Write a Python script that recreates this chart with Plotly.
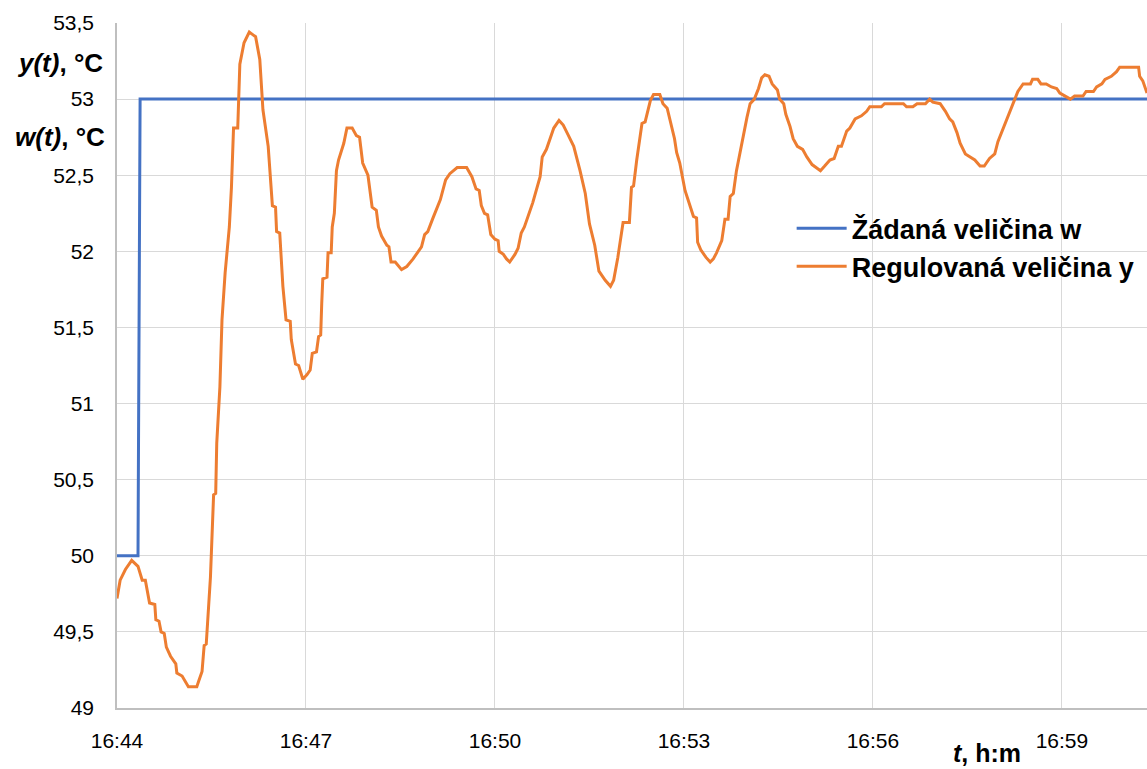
import plotly.graph_objects as go
import pandas as pd

START = "2024-01-01 16:44:00"

# setpoint w(t): seconds after 16:44:00, value °C
w_sec = [0, 20, 22, 990]
w_val = [50.0, 50.0, 53.0, 53.0]

# controlled variable y(t): seconds after 16:44:00, value °C
y_sec = [0, 3, 8, 14, 20, 24, 27, 31, 36, 37, 40, 42, 45, 47, 51, 56, 57, 62, 68, 76,
         78, 81, 83, 85, 89, 92, 94, 95, 98, 100, 103, 107, 109, 111, 115, 117, 121, 126,
         128, 132, 136, 139, 144, 148, 151, 152, 155, 158, 161, 165, 166, 168, 170, 173,
         175, 177, 181, 184, 186, 190, 192, 194, 195, 196, 200, 201, 204, 205, 207, 209,
         211, 216, 219, 224, 228, 231, 234, 239, 243, 247, 249, 252, 257, 259, 261, 265,
         271, 276, 282, 290, 293, 296, 301, 308, 313, 317, 324, 333, 338, 342, 345, 347,
         350, 353, 356, 360, 363, 364, 368, 371, 374, 379, 382, 385, 388, 392, 396, 403,
         405, 409, 416, 421, 425, 430, 435, 441, 446, 450, 455, 459, 465, 470, 473, 477,
         482, 488, 490, 492, 495, 500, 503, 508, 511, 517, 520, 524, 528, 531, 533, 536,
         541, 546, 549, 552, 553, 556, 561, 565, 568, 571, 576, 579, 582, 584, 587, 590,
         593, 596, 600, 603, 607, 611, 614, 617, 621, 624, 629, 631, 635, 637, 641, 644,
         648, 653, 657, 662, 666, 670, 674, 679, 683, 687, 690, 695, 698, 703, 709, 714,
         717, 728, 731, 749, 752, 758, 762, 770, 774, 777, 784, 789, 793, 796, 800, 803,
         808, 812, 817, 822, 826, 831, 836, 839, 843, 846, 850, 854, 858, 863, 870, 872,
         877, 880, 885, 890, 895, 898, 903, 908, 912, 920, 923, 930, 933, 938, 941, 947,
         952, 955, 973, 974, 977, 981]
y_val = [49.72, 49.84, 49.91, 49.97, 49.93, 49.84, 49.84, 49.69, 49.68, 49.58, 49.57, 49.50,
         49.49, 49.40, 49.34, 49.29, 49.23, 49.21, 49.14, 49.14, 49.18, 49.24, 49.41, 49.42,
         49.86, 50.40, 50.41, 50.74, 51.11, 51.55, 51.86, 52.16, 52.42, 52.81, 52.81, 53.23,
         53.37, 53.44, 53.43, 53.41, 53.26, 52.93, 52.69, 52.30, 52.29, 52.13, 52.12, 51.77,
         51.55, 51.54, 51.42, 51.33, 51.26, 51.25, 51.21, 51.16, 51.19, 51.22, 51.33, 51.34,
         51.44, 51.45, 51.66, 51.82, 51.83, 51.99, 51.99, 52.16, 52.25, 52.53, 52.60, 52.71,
         52.81, 52.81, 52.76, 52.75, 52.58, 52.50, 52.29, 52.27, 52.16, 52.10, 52.04, 52.03,
         51.93, 51.93, 51.88, 51.90, 51.95, 52.03, 52.11, 52.13, 52.22, 52.34, 52.47, 52.51,
         52.55, 52.55, 52.49, 52.41, 52.40, 52.30, 52.25, 52.24, 52.11, 52.08, 52.07, 52.00,
         51.98, 51.95, 51.93, 51.98, 52.02, 52.12, 52.16, 52.24, 52.32, 52.49, 52.62, 52.67,
         52.81, 52.86, 52.83, 52.76, 52.69, 52.53, 52.38, 52.18, 52.04, 51.87, 51.81, 51.77,
         51.81, 51.96, 52.19, 52.19, 52.42, 52.43, 52.60, 52.84, 52.85, 52.99, 53.03, 53.03,
         52.97, 52.94, 52.82, 52.74, 52.65, 52.58, 52.40, 52.29, 52.23, 52.22, 52.06, 52.01,
         51.96, 51.93, 51.95, 51.99, 52.07, 52.21, 52.21, 52.36, 52.38, 52.53, 52.64, 52.74,
         52.88, 52.97, 53.00, 53.07, 53.14, 53.16, 53.15, 53.10, 53.06, 53.00, 52.97, 52.90,
         52.82, 52.74, 52.69, 52.67, 52.62, 52.57, 52.55, 52.53, 52.56, 52.60, 52.61, 52.69,
         52.69, 52.79, 52.81, 52.87, 52.89, 52.92, 52.95, 52.95, 52.97, 52.97, 52.95, 52.95,
         52.97, 52.97, 53.00, 52.98, 52.97, 52.92, 52.87, 52.85, 52.78, 52.71, 52.64, 52.62,
         52.60, 52.56, 52.56, 52.61, 52.64, 52.72, 52.79, 52.84, 52.92, 52.99, 53.05, 53.10,
         53.10, 53.13, 53.13, 53.10, 53.10, 53.08, 53.07, 53.04, 53.02, 53.00, 53.02, 53.02,
         53.05, 53.05, 53.08, 53.10, 53.13, 53.15, 53.18, 53.21, 53.21, 53.15, 53.12, 53.04]

x_tick_sec = [0, 180, 360, 540, 720, 900]
x_range_sec = [0, 981]

base = pd.Timestamp(START)
to_t = lambda secs: [base + pd.Timedelta(seconds=s) for s in secs]

FONT = "Liberation Sans"
BLUE = "#4472C4"
ORANGE = "#ED7D31"

fig = go.Figure()
fig.add_trace(go.Scatter(x=to_t(w_sec), y=w_val, mode="lines",
                         name="Žádaná veličina w", line=dict(color=BLUE, width=3)))
fig.add_trace(go.Scatter(x=to_t(y_sec), y=y_val, mode="lines",
                         name="Regulovaná veličina y", line=dict(color=ORANGE, width=3)))

fig.update_layout(
    width=1147, height=769,
    margin=dict(l=117, r=0, t=23, b=61),
    paper_bgcolor="white", plot_bgcolor="white",
    separators=", ",
    font=dict(family=FONT, size=21, color="#000000"),
    showlegend=True,
    legend=dict(x=0.655, y=0.672, xanchor="left", yanchor="middle",
                bgcolor="rgba(0,0,0,0)", borderwidth=0,
                font=dict(family=FONT, size=27, color="#000000", weight="bold"),
                tracegroupgap=0, itemwidth=50),
    xaxis=dict(type="date", range=to_t(x_range_sec), tickvals=to_t(x_tick_sec),
               tickformat="%H:%M", showgrid=True, gridcolor="#D9D9D9", gridwidth=1.3,
               showline=True, linecolor="#BFBFBF", linewidth=1.5, zeroline=False,
               ticks="", ticklabelstandoff=13,
               tickfont=dict(family=FONT, size=21, color="#000000")),
    yaxis=dict(range=[49, 53.5], dtick=0.5, tick0=49, showgrid=True,
               gridcolor="#D9D9D9", gridwidth=1.3, showline=True,
               linecolor="#BFBFBF", linewidth=1.5, zeroline=False, ticks="",
               ticklabelstandoff=17,
               tickfont=dict(family=FONT, size=21, color="#000000")),
)

fig.add_annotation(text="<b><i>y(t)</i>, °C</b>", xref="paper", yref="paper",
                   x=-0.0555, y=0.942, xanchor="center", yanchor="middle",
                   showarrow=False, font=dict(family=FONT, size=26, color="#000000"))
fig.add_annotation(text="<b><i>w(t)</i>, °C</b>", xref="paper", yref="paper",
                   x=-0.0555, y=0.833, xanchor="center", yanchor="middle",
                   showarrow=False, font=dict(family=FONT, size=26, color="#000000"))
fig.add_annotation(text="<b><i>t</i>, h:m</b>", xref="paper", yref="paper",
                   x=0.845, y=-0.066, xanchor="center", yanchor="middle",
                   showarrow=False, font=dict(family=FONT, size=25, color="#000000"))

fig.write_html("out.html", config={"displayModeBar": False},
               post_script="document.body.style.margin='0';")
